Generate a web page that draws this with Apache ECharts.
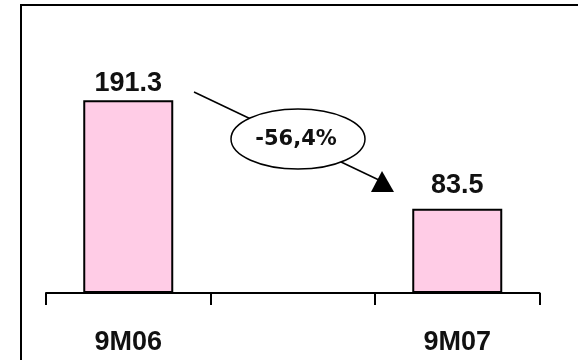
<!DOCTYPE html>
<html>
<head>
<meta charset="utf-8">
<style>
  html, body { margin: 0; padding: 0; background: #fff; }
  #chart { width: 578px; height: 360px; }
</style>
<script src="https://cdn.jsdelivr.net/npm/echarts@6/dist/echarts.min.js"></script>
</head>
<body>
<div id="chart"></div>
<script>
// Periods on the category axis (the middle slot is an empty spacer)
const categories = ['9M06', '', '9M07'];
// Values per period
const values = [191.3, null, 83.5];

const FONT = '"Liberation Sans", Arial, sans-serif';
const PINK = '#FFCCE6';

// Change between the first and last period, written with a decimal comma
const first = values[0];
const last = values[values.length - 1];
const changePct = ((last / first) - 1) * 100;
const changeText = changePct.toFixed(1).replace('.', ',') + '%';

// Gap between each value label and its bar top
const labelGap = [3, 10, 10];

const chart = echarts.init(document.getElementById('chart'), null, { renderer: 'canvas' });

chart.setOption({
  animation: false,
  backgroundColor: '#ffffff',
  grid: { left: 46, right: 38.5, top: 41, bottom: 67 },
  xAxis: {
    type: 'category',
    data: categories,
    boundaryGap: true,
    axisLine: { show: true, lineStyle: { color: '#000', width: 2 } },
    axisTick: { show: true, length: 12, lineStyle: { color: '#000', width: 2 }, alignWithLabel: false },
    axisLabel: {
      color: '#111',
      fontFamily: FONT,
      fontWeight: 'bold',
      fontSize: 27,
      margin: 36
    },
    splitLine: { show: false }
  },
  yAxis: {
    type: 'value',
    min: 0,
    max: 250,
    show: false
  },
  series: [{
    type: 'bar',
    barWidth: 90,
    data: values.map((v, i) => ({
      value: v,
      label: { distance: labelGap[i] }
    })),
    itemStyle: { color: PINK, borderColor: '#000', borderWidth: 2 },
    label: {
      show: true,
      position: 'top',
      color: '#111',
      fontFamily: FONT,
      fontWeight: 'bold',
      fontSize: 27,
      formatter: p => (p.value == null ? '' : p.value.toFixed(1))
    }
  }],
  graphic: [
    // Frame around the chart area
    {
      type: 'rect',
      shape: { x: 21, y: 5, width: 620, height: 420 },
      style: { fill: 'none', stroke: '#000', lineWidth: 2 },
      silent: true
    },
    // Leader line from the first bar down to the arrowhead
    {
      type: 'line',
      shape: { x1: 194, y1: 92, x2: 381, y2: 181 },
      style: { stroke: '#000', lineWidth: 1.5 },
      z: 10
    },
    // Callout bubble with the change figure
    {
      type: 'ellipse',
      shape: { cx: 298, cy: 139, rx: 67, ry: 30 },
      style: { fill: '#fff', stroke: '#000', lineWidth: 1.5 },
      z: 11
    },
    {
      type: 'text',
      x: 296,
      y: 140,
      style: {
        text: changeText,
        fill: '#111',
        font: 'bold 21px "DejaVu Sans", sans-serif',
        align: 'center',
        verticalAlign: 'middle'
      },
      z: 12
    },
    // Arrowhead
    {
      type: 'polygon',
      shape: { points: [[382, 171], [371, 192], [394, 192]] },
      style: { fill: '#000' },
      z: 12
    }
  ]
});
</script>
</body>
</html>
